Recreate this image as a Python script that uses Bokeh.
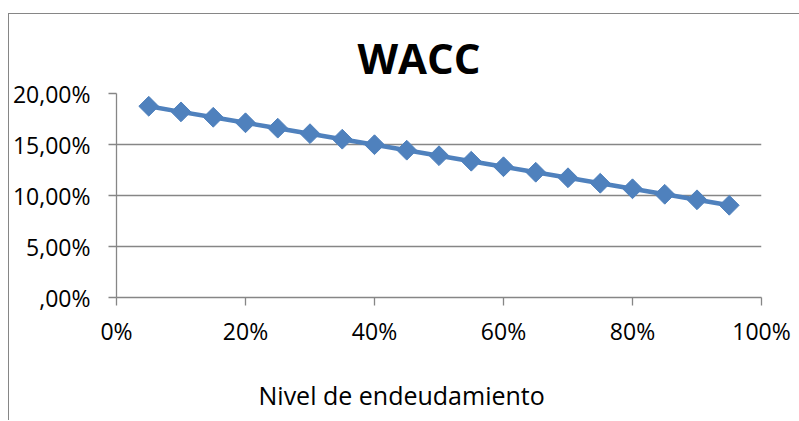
import math
from bokeh.plotting import figure
from bokeh.models import FixedTicker, Range1d, Title, Div, Spacer
from bokeh.layouts import row, column
from bokeh.embed import file_html
from bokeh.resources import INLINE

# data
debt_level = [5, 10, 15, 20, 25, 30, 35, 40, 45, 50, 55, 60, 65, 70, 75, 80, 85, 90, 95]
wacc = [18.75, 18.20, 17.67, 17.13, 16.60, 16.06, 15.52, 14.98, 14.44, 13.90,
        13.36, 12.82, 12.28, 11.74, 11.20, 10.66, 10.12, 9.58, 9.04]
x_ticks = [0, 20, 40, 60, 80, 100]
x_tick_labels = ["0%", "20%", "40%", "60%", "80%", "100%"]
y_ticks = [0, 5, 10, 15, 20]
y_tick_labels = [",00%", "5,00%", "10,00%", "15,00%", "20,00%"]
title_text = "WACC"
x_title = "Nivel de endeudamiento"

FONT = "Open Sans"
GRID = "#868686"
BLUE = "#4F81BD"

p = figure(width=789, height=406, output_backend="svg", toolbar_location=None,
           x_range=Range1d(0, 100), y_range=Range1d(0, 20),
           min_border_left=107, min_border_right=37, min_border_top=79, min_border_bottom=123)
p.margin = 0
p.styles = {"border-left": "1px solid #868686"}

p.outline_line_color = None
p.background_fill_color = "white"
p.border_fill_color = "white"

p.add_layout(Title(text=title_text, text_font=FONT, text_font_size="42px",
                   text_font_style="bold", text_color="black",
                   align="left", offset=241, standoff=16), "above")

p.line(debt_level, wacc, line_color=BLUE, line_width=4.5)
p.scatter(debt_level, wacc, marker="square", angle=math.pi / 4, size=14,
          fill_color=BLUE, line_color=BLUE)

p.xgrid.grid_line_color = None
p.ygrid.grid_line_color = GRID
p.ygrid.grid_line_width = 1.3
p.ygrid.ticker = FixedTicker(ticks=y_ticks)

p.xaxis.ticker = FixedTicker(ticks=x_ticks)
p.xaxis.major_label_overrides = {t: l for t, l in zip(x_ticks, x_tick_labels)}
p.yaxis.ticker = FixedTicker(ticks=y_ticks)
p.yaxis.major_label_overrides = {t: l for t, l in zip(y_ticks, y_tick_labels)}

for ax in (p.xaxis[0], p.yaxis[0]):
    ax.axis_line_color = GRID
    ax.axis_line_width = 1.3
    ax.major_tick_line_color = GRID
    ax.major_tick_line_width = 1.3
    ax.major_tick_out = 8
    ax.major_tick_in = 0
    ax.minor_tick_line_color = None
    ax.major_label_text_font = FONT
    ax.major_label_text_font_size = "23px"
    ax.major_label_text_color = "black"

p.yaxis.major_label_standoff = 18
p.xaxis.major_label_standoff = 9

# small blank title used only as a vertical gap between the axis and its label
p.add_layout(Title(text="\u00a0", text_font=FONT, text_font_size="7px"), "below")
p.add_layout(Title(text=x_title, text_font=FONT, text_font_size="25px",
                   text_font_style="normal", text_color="black", align="left", offset=142),
             "below")

top_line = Div(text="", width=791, height=1, margin=0,
               styles={"background-color": GRID})
layout = row(Spacer(width=8, height=1, margin=0),
             column(Spacer(width=1, height=13, margin=0), top_line, p, spacing=0, margin=0),
             spacing=0, margin=0)

open("out.html", "w").write(file_html(layout, INLINE))
